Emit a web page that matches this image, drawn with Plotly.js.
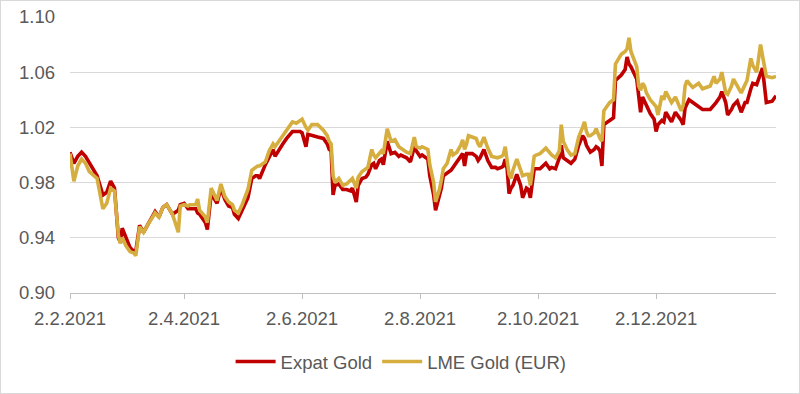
<!DOCTYPE html>
<html>
<head>
<meta charset="utf-8">
<script src="https://cdn.plot.ly/plotly-3.0.1.min.js"></script>
<style>
html,body{margin:0;padding:0;background:#fff;}
#wrap{width:800px;height:394px;box-sizing:border-box;border:1px solid #d9d9d9;overflow:hidden;}
#chart{width:798px;height:392px;}
</style>
</head>
<body>
<div id="wrap"><div id="chart"></div></div>
<script>
const dates = [
"2021-02-02","2021-02-04","2021-02-06","2021-02-08","2021-02-10","2021-02-12","2021-02-16","2021-02-19","2021-02-21","2021-02-23",
"2021-02-25","2021-02-27","2021-02-28","2021-03-01","2021-03-03","2021-03-05","2021-03-07","2021-03-08","2021-03-10","2021-03-12",
"2021-03-14","2021-03-18","2021-03-20","2021-03-22","2021-03-24","2021-03-26","2021-03-27","2021-03-30","2021-03-31","2021-04-02",
"2021-04-04","2021-04-05","2021-04-08","2021-04-09","2021-04-10","2021-04-13","2021-04-14","2021-04-16","2021-04-17","2021-04-19",
"2021-04-21","2021-04-23","2021-04-25","2021-04-27","2021-04-28","2021-04-30","2021-05-02","2021-05-05","2021-05-07","2021-05-09",
"2021-05-10","2021-05-11","2021-05-14","2021-05-16","2021-05-18","2021-05-19","2021-05-21","2021-05-23","2021-05-25","2021-05-28",
"2021-05-30","2021-06-01","2021-06-02","2021-06-04","2021-06-05","2021-06-07","2021-06-10","2021-06-13","2021-06-15","2021-06-16",
"2021-06-17","2021-06-18","2021-06-19","2021-06-21","2021-06-22","2021-06-23","2021-06-25","2021-06-27","2021-06-28","2021-06-30",
"2021-07-01","2021-07-03","2021-07-05","2021-07-06","2021-07-08","2021-07-09","2021-07-10","2021-07-12","2021-07-13","2021-07-14",
"2021-07-16","2021-07-18","2021-07-20","2021-07-22","2021-07-23","2021-07-26","2021-07-28","2021-07-30","2021-07-31","2021-08-02",
"2021-08-03","2021-08-06","2021-08-07","2021-08-09","2021-08-10","2021-08-12","2021-08-13","2021-08-14","2021-08-16","2021-08-18",
"2021-08-19","2021-08-21","2021-08-23","2021-08-24","2021-08-25","2021-08-26","2021-08-27","2021-08-29","2021-08-31","2021-09-01",
"2021-09-02","2021-09-04","2021-09-06","2021-09-08","2021-09-10","2021-09-11","2021-09-13","2021-09-14","2021-09-15","2021-09-16",
"2021-09-17","2021-09-18","2021-09-19","2021-09-21","2021-09-23","2021-09-24","2021-09-26","2021-09-27","2021-09-28","2021-09-30",
"2021-10-01","2021-10-03","2021-10-06","2021-10-08","2021-10-09","2021-10-11","2021-10-13","2021-10-14","2021-10-15","2021-10-17",
"2021-10-19","2021-10-21","2021-10-23","2021-10-25","2021-10-26","2021-10-27","2021-10-28","2021-10-29","2021-10-31","2021-11-01",
"2021-11-02","2021-11-03","2021-11-04","2021-11-05","2021-11-08","2021-11-10","2021-11-11","2021-11-14","2021-11-16","2021-11-17",
"2021-11-18","2021-11-19","2021-11-22","2021-11-23","2021-11-24","2021-11-25","2021-11-26","2021-11-27","2021-11-29","2021-12-01",
"2021-12-02","2021-12-03","2021-12-05","2021-12-06","2021-12-07","2021-12-10","2021-12-12","2021-12-15","2021-12-16","2021-12-17",
"2021-12-18","2021-12-19","2021-12-21","2021-12-24","2021-12-26","2021-12-30","2022-01-01","2022-01-02","2022-01-04","2022-01-05",
"2022-01-07","2022-01-08","2022-01-10","2022-01-11","2022-01-13","2022-01-15","2022-01-17","2022-01-18","2022-01-20","2022-01-21",
"2022-01-23","2022-01-25","2022-01-26","2022-01-28","2022-01-31","2022-02-02"
];

const expatGold = [
1.002,0.994,0.999,1.002,0.999,0.994,0.985,0.971,0.973,0.981,
0.976,0.940,0.937,0.947,0.940,0.933,0.930,0.930,0.949,0.944,
0.949,0.959,0.955,0.962,0.964,0.960,0.957,0.960,0.964,0.965,
0.961,0.961,0.961,0.958,0.957,0.951,0.946,0.972,0.970,0.965,
0.976,0.968,0.963,0.962,0.957,0.954,0.960,0.969,0.983,0.985,
0.985,0.983,0.993,0.998,1.004,0.999,1.004,1.008,1.012,1.017,
1.017,1.017,1.016,1.006,1.015,1.014,1.013,1.012,1.008,1.004,
1.003,0.971,0.978,0.979,0.977,0.975,0.975,0.974,0.976,0.966,
0.978,0.983,0.984,0.986,0.993,0.994,0.990,0.996,0.997,0.993,
1.010,1.001,1.002,0.999,1.000,0.998,0.995,1.006,1.003,0.999,
1.000,0.997,0.985,0.971,0.960,0.971,0.976,0.985,0.987,0.989,
0.991,0.995,0.999,1.001,0.992,1.001,1.001,1.001,0.999,0.996,
0.998,1.004,0.996,0.991,0.991,0.990,0.991,0.992,0.997,0.990,
0.972,0.976,0.978,0.986,0.978,0.969,0.976,0.975,0.969,0.990,
0.990,0.990,0.994,0.990,0.991,0.990,0.998,1.007,0.998,0.996,
0.994,0.997,1.007,1.014,1.012,1.007,1.005,1.002,1.004,1.006,
1.005,1.003,0.992,1.022,1.025,1.027,1.054,1.058,1.062,1.071,
1.066,1.064,1.055,1.043,1.031,1.042,1.039,1.035,1.030,1.026,
1.017,1.022,1.025,1.024,1.031,1.024,1.031,1.025,1.022,1.034,
1.037,1.040,1.038,1.035,1.033,1.033,1.036,1.038,1.042,1.046,
1.038,1.029,1.033,1.036,1.039,1.031,1.038,1.038,1.048,1.052,
1.051,1.058,1.063,1.038,1.039,1.043
];

const lmeGold = [
1.001,0.981,0.992,0.997,0.994,0.988,0.983,0.961,0.965,0.976,
0.974,0.942,0.936,0.940,0.934,0.930,0.929,0.927,0.948,0.944,
0.949,0.958,0.955,0.962,0.964,0.960,0.957,0.944,0.963,0.964,
0.963,0.964,0.964,0.968,0.960,0.955,0.951,0.976,0.973,0.967,
0.979,0.970,0.966,0.964,0.960,0.958,0.964,0.975,0.989,0.991,
0.992,0.992,0.995,1.003,1.008,1.006,1.010,1.013,1.018,1.024,
1.023,1.025,1.026,1.020,1.018,1.022,1.022,1.018,1.014,1.010,
1.008,0.985,0.980,0.983,0.981,0.978,0.979,0.982,0.983,0.976,
0.984,0.988,0.990,0.991,1.004,1.000,0.998,1.002,1.003,1.001,
1.019,1.010,1.011,1.006,1.005,1.002,1.001,1.013,1.006,1.005,
1.006,1.004,0.993,0.980,0.966,0.975,0.982,0.990,0.994,1.004,
1.000,1.002,1.007,1.011,1.004,1.008,1.014,1.013,1.012,1.008,
1.006,1.013,1.005,0.999,0.998,0.998,0.999,1.000,1.006,0.995,
0.986,0.983,0.989,0.997,0.990,0.985,0.986,0.986,0.978,0.999,
1.000,1.001,1.005,1.002,1.000,0.998,1.003,1.022,1.010,1.004,
1.000,1.001,1.013,1.020,1.024,1.017,1.014,1.014,1.016,1.019,
1.015,1.012,1.010,1.032,1.038,1.040,1.066,1.073,1.075,1.077,
1.085,1.075,1.064,1.050,1.047,1.052,1.050,1.045,1.040,1.036,
1.035,1.029,1.043,1.040,1.046,1.038,1.042,1.032,1.036,1.050,
1.054,1.052,1.049,1.052,1.048,1.050,1.057,1.052,1.055,1.060,
1.045,1.044,1.050,1.055,1.050,1.045,1.051,1.054,1.070,1.065,
1.060,1.080,1.072,1.057,1.056,1.057
];

const seriesNames = ["Expat Gold", "LME Gold (EUR)"];
const tickDates = ["2021-02-02","2021-04-02","2021-06-02","2021-08-02","2021-10-02","2021-12-02"];
const tickLabels = ["2.2.2021","2.4.2021","2.6.2021","2.8.2021","2.10.2021","2.12.2021"];
const yTicks = [0.90, 0.94, 0.98, 1.02, 1.06, 1.10];

const font = {family: "'Liberation Sans', Arial, sans-serif", size: 18.5, color: "#595959"};

const traces = [
  {x: dates, y: expatGold, name: seriesNames[0], type: "scatter", mode: "lines",
   line: {color: "#C00000", width: 3.6}},
  {x: dates, y: lmeGold, name: seriesNames[1], type: "scatter", mode: "lines",
   line: {color: "#D5AE3F", width: 3.6}}
];

const layout = {
  width: 798, height: 392,
  margin: {l: 69, r: 23, t: 16, b: 93},
  paper_bgcolor: "#ffffff", plot_bgcolor: "#ffffff",
  font: font,
  showlegend: true,
  legend: {orientation: "h", x: 0.469, xanchor: "center", y: -0.25, yanchor: "middle",
           font: font, itemwidth: 40, tracegroupgap: 0, traceorder: "normal"},
  xaxis: {type: "date", range: ["2021-02-02", "2022-02-02"],
          tickvals: tickDates, ticktext: tickLabels,
          showgrid: false, showline: true, linecolor: "#BFBFBF", linewidth: 1,
          ticks: "outside", ticklen: 5, tickcolor: "#BFBFBF",
          ticklabelstandoff: 4, tickfont: font, zeroline: false, fixedrange: true},
  yaxis: {range: [0.90, 1.10], tickvals: yTicks, tickformat: ".2f",
          showgrid: true, gridcolor: "#D9D9D9", gridwidth: 1,
          showline: false, zeroline: false, ticks: "",
          ticklabelstandoff: 14, tickfont: font, fixedrange: true}
};

Plotly.newPlot("chart", traces, layout, {staticPlot: true, displayModeBar: false});
</script>
</body>
</html>
